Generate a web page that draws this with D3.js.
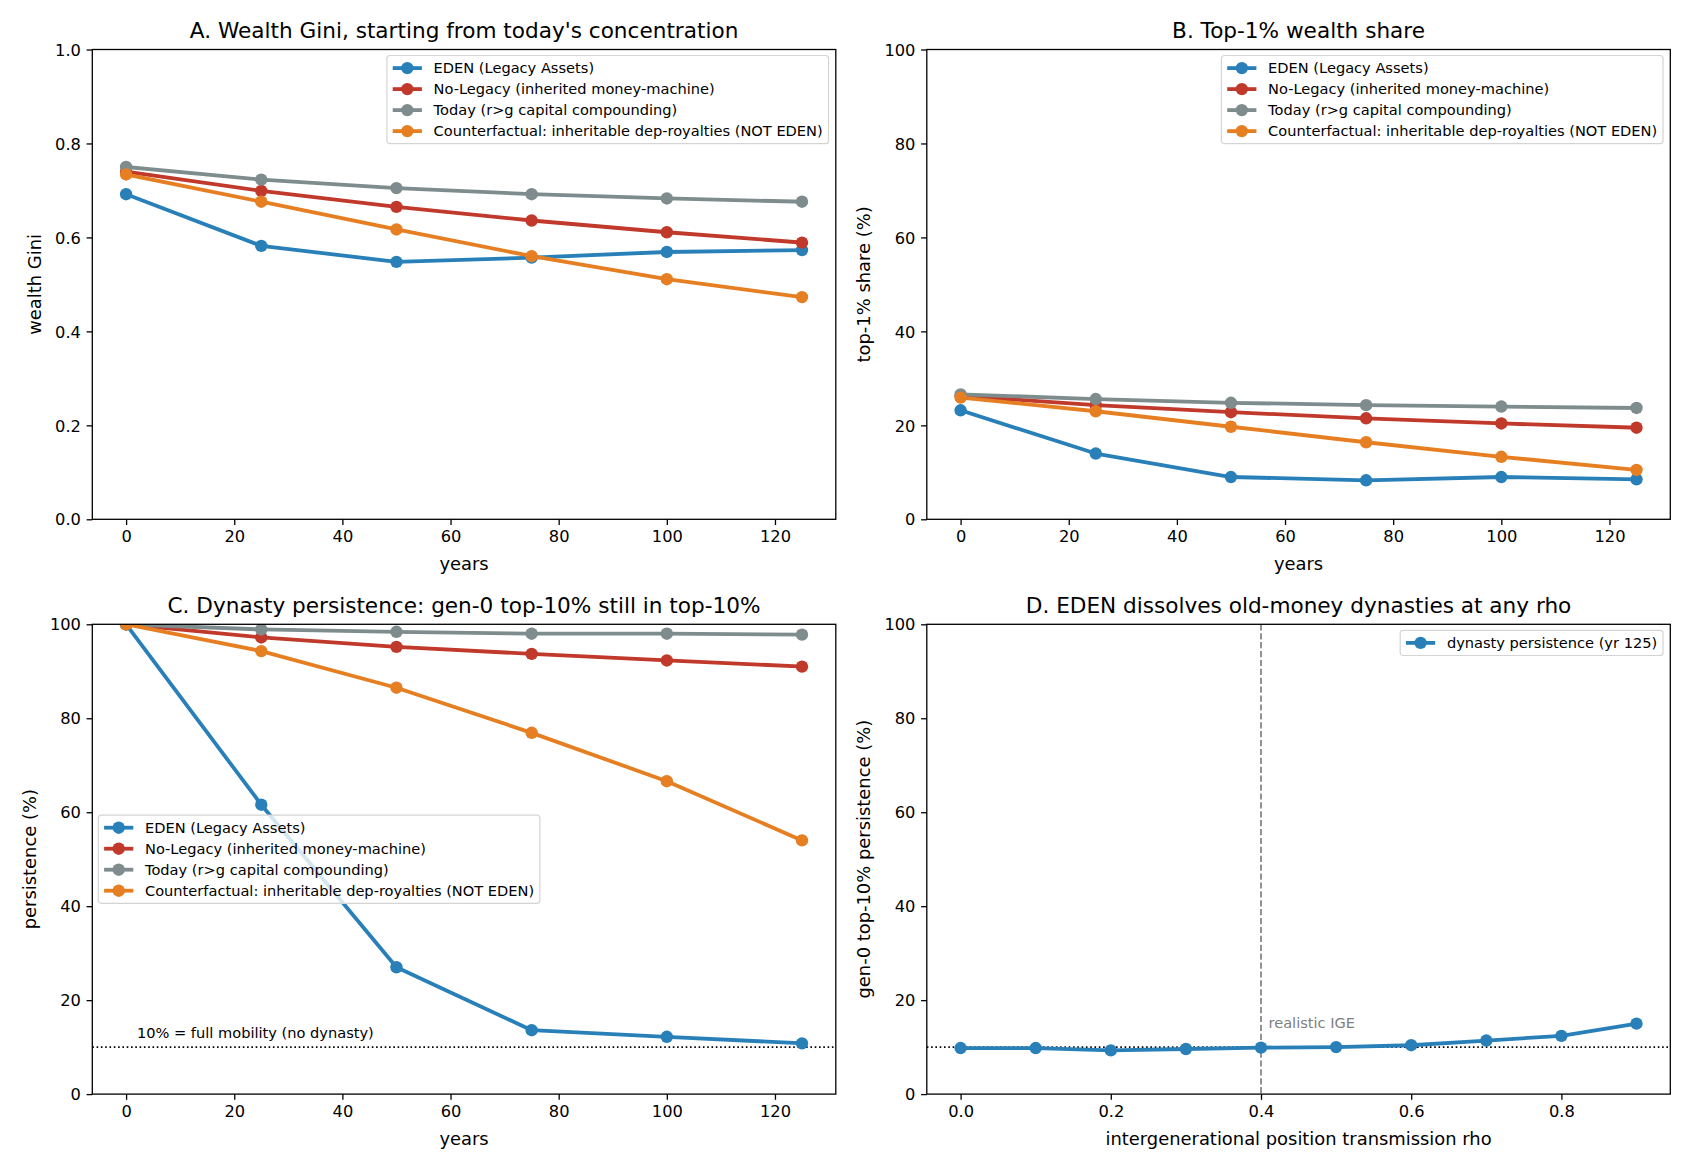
<!DOCTYPE html>
<html>
<head>
<meta charset="utf-8">
<script src="https://cdn.jsdelivr.net/npm/d3@7"></script>
<style>
  body { margin: 0; background: #fff; }
  svg { font-family: "DejaVu Sans", sans-serif; }
</style>
</head>
<body>
<script>
// ---- data ----
const years = [0, 25, 50, 75, 100, 125]
const seriesNames = [
  'EDEN (Legacy Assets)',
  'No-Legacy (inherited money-machine)',
  'Today (r>g capital compounding)',
  'Counterfactual: inheritable dep-royalties (NOT EDEN)'
]

const giniEden = [0.692, 0.582, 0.548, 0.557, 0.569, 0.573]
const giniNoLegacy = [0.740, 0.699, 0.665, 0.636, 0.611, 0.589]
const giniToday = [0.750, 0.723, 0.705, 0.692, 0.683, 0.676]
const giniCounter = [0.734, 0.676, 0.617, 0.560, 0.511, 0.473]

const top1Eden = [23.2, 14.0, 9.0, 8.3, 9.0, 8.5]
const top1NoLegacy = [26.3, 24.3, 22.8, 21.5, 20.4, 19.5]
const top1Today = [26.6, 25.6, 24.8, 24.3, 24.0, 23.7]
const top1Counter = [25.9, 23.0, 19.7, 16.4, 13.3, 10.5]

const persistEden = [100, 61.6, 27.0, 13.6, 12.2, 10.8]
const persistNoLegacy = [100, 97.2, 95.2, 93.7, 92.3, 91.0]
const persistToday = [100, 98.9, 98.4, 98.0, 98.0, 97.8]
const persistCounter = [100, 94.3, 86.5, 76.9, 66.6, 54.0]

const rhoValues = [0.0, 0.1, 0.2, 0.3, 0.4, 0.5, 0.6, 0.7, 0.8, 0.9]
const rhoPersistence = [9.8, 9.8, 9.3, 9.6, 9.9, 10.0, 10.4, 11.4, 12.4, 15.0]

const yearTicks = [0, 20, 40, 60, 80, 100, 120]
const giniTicks = [0.0, 0.2, 0.4, 0.6, 0.8, 1.0]
const pctTicks = [0, 20, 40, 60, 80, 100]
const rhoTicks = [0.0, 0.2, 0.4, 0.6, 0.8]

const mobilityLevel = 10
const realisticRho = 0.4

// ---- styles ----
const colors = ['#2980b9', '#c0392b', '#7f8c8d', '#e67e22']
const lineW = 3.8
const markerR = 6.2
const tickFont = 16.25
const labelFont = 17.9
const titleFont = 21.6
const legendFont = 14.6

const W = 1690
const H = 1170
const svg = d3.select('body').append('svg').attr('width', W).attr('height', H)

const colX = [92.3, 926.8]
const rowY = [49.5, 624.3]
const pw = 743.5
const ph = 469.8

let clipId = 0

function panel (opts) {
  const g = svg.append('g').attr('transform', `translate(${opts.left},${opts.top})`)
  const x = d3.scaleLinear().domain(opts.xDomain).range([0, pw])
  const y = d3.scaleLinear().domain(opts.yDomain).range([ph, 0])

  const cid = 'clip' + (clipId++)
  g.append('clipPath').attr('id', cid).append('rect').attr('width', pw).attr('height', ph)
  const plot = g.append('g').attr('clip-path', `url(#${cid})`)

  // axes
  const xAxis = g.append('g').attr('transform', `translate(0,${ph})`)
    .call(d3.axisBottom(x).tickValues(opts.xTicks).tickFormat(opts.xFormat).tickSizeInner(5.7).tickSizeOuter(0).tickPadding(5.7))
  const yAxis = g.append('g')
    .call(d3.axisLeft(y).tickValues(opts.yTicks).tickFormat(opts.yFormat).tickSizeInner(5.7).tickSizeOuter(0).tickPadding(5.7))
  ;[xAxis, yAxis].forEach(a => {
    a.selectAll('text').attr('font-size', tickFont).attr('font-family', 'DejaVu Sans').attr('fill', '#000')
    a.selectAll('line').attr('stroke', '#000').attr('stroke-width', 1.3)
    a.select('.domain').remove()
  })
  xAxis.selectAll('text').attr('dy', '0.72em')
  yAxis.selectAll('text').attr('dy', '0.35em')

  // reference lines
  if (opts.hline != null) {
    plot.append('line')
      .attr('x1', 0).attr('x2', pw)
      .attr('y1', y(opts.hline)).attr('y2', y(opts.hline))
      .attr('stroke', '#000').attr('stroke-width', 1.6).attr('stroke-dasharray', '1.6,2.7')
  }
  if (opts.vline != null) {
    plot.append('line')
      .attr('x1', x(opts.vline)).attr('x2', x(opts.vline))
      .attr('y1', 0).attr('y2', ph)
      .attr('stroke', '#808080').attr('stroke-width', 1.7).attr('stroke-dasharray', '6.2,2.7')
  }

  // series
  const line = d3.line().x(d => x(d[0])).y(d => y(d[1]))
  opts.series.forEach((s, i) => {
    const pts = s.xs.map((v, j) => [v, s.ys[j]])
    plot.append('path').datum(pts)
      .attr('d', line).attr('fill', 'none')
      .attr('stroke', s.color).attr('stroke-width', lineW)
      .attr('stroke-linejoin', 'round').attr('stroke-linecap', 'square')
    plot.selectAll(null).data(pts).enter().append('circle')
      .attr('cx', d => x(d[0])).attr('cy', d => y(d[1]))
      .attr('r', markerR).attr('fill', s.color)
  })

  // annotations
  ;(opts.notes || []).forEach(n => {
    g.append('text').attr('x', x(n.x)).attr('y', y(n.y))
      .attr('font-size', n.size).attr('fill', n.color).text(n.text)
  })

  // spines
  g.append('rect').attr('width', pw).attr('height', ph)
    .attr('fill', 'none').attr('stroke', '#000').attr('stroke-width', 1.3)

  // title and axis labels
  g.append('text').attr('x', pw / 2).attr('y', -11.3).attr('text-anchor', 'middle')
    .attr('font-size', titleFont).text(opts.title)
  g.append('text').attr('x', pw / 2).attr('y', ph + 51).attr('text-anchor', 'middle')
    .attr('font-size', labelFont).text(opts.xLabel)
  const tw = d3.max(yAxis.selectAll('text').nodes(), n => n.getComputedTextLength())
  const lx = -(11.4 + tw + 20.4)
  g.append('text').attr('transform', `translate(${lx},${ph / 2}) rotate(-90)`)
    .attr('text-anchor', 'middle').attr('dy', '0.35em')
    .attr('font-size', labelFont).text(opts.yLabel)

  // legend
  legend(g, opts.series, opts.legendLoc)
}

function legend (g, series, loc) {
  const pad = 5.8
  const rowH = 13.6
  const gap = 7.4
  const handleLen = 29.2
  const textGap = 11.7
  const lg = g.append('g')
  const box = lg.append('rect')
  const rows = lg.selectAll(null).data(series).enter().append('g')
    .attr('transform', (d, i) => `translate(${pad},${pad + rowH / 2 + i * (rowH + gap)})`)
  rows.append('line').attr('x1', 0).attr('x2', handleLen)
    .attr('stroke', d => d.color).attr('stroke-width', lineW)
  rows.append('circle').attr('cx', handleLen / 2).attr('r', markerR).attr('fill', d => d.color)
  const texts = rows.append('text').attr('x', handleLen + textGap).attr('dy', '0.35em')
    .attr('font-size', legendFont).text(d => d.name)
  const tw = d3.max(texts.nodes(), n => n.getComputedTextLength())
  const bw = pad + handleLen + textGap + tw + pad
  const bh = pad * 2 + series.length * rowH + (series.length - 1) * gap
  box.attr('width', bw).attr('height', bh).attr('rx', 3)
    .attr('fill', 'rgba(255,255,255,0.8)').attr('stroke', '#d4d4d4').attr('stroke-width', 1.2)
  const inset = 7.3
  let lx, ly
  if (loc === 'center left') {
    lx = inset - 1.3
    ly = ph / 2 - bh / 2
  } else {
    lx = pw - inset - bw
    ly = inset - 1.3
  }
  lg.attr('transform', `translate(${lx},${ly})`)
}

function fourSeries (a, b, c, d) {
  return [a, b, c, d].map((ys, i) => ({ name: seriesNames[i], color: colors[i], xs: years, ys: ys }))
}

const yearDomain = [-6.25, 131.25]

panel({
  left: colX[0], top: rowY[0],
  title: "A. Wealth Gini, starting from today's concentration",
  xLabel: 'years', yLabel: 'wealth Gini',
  xDomain: yearDomain, yDomain: [0, 1],
  xTicks: yearTicks, yTicks: giniTicks,
  xFormat: d3.format('d'), yFormat: d3.format('.1f'),
  series: fourSeries(giniEden, giniNoLegacy, giniToday, giniCounter),
  legendLoc: 'upper right'
})

panel({
  left: colX[1], top: rowY[0],
  title: 'B. Top-1% wealth share',
  xLabel: 'years', yLabel: 'top-1% share (%)',
  xDomain: yearDomain, yDomain: [0, 100],
  xTicks: yearTicks, yTicks: pctTicks,
  xFormat: d3.format('d'), yFormat: d3.format('d'),
  series: fourSeries(top1Eden, top1NoLegacy, top1Today, top1Counter),
  legendLoc: 'upper right'
})

panel({
  left: colX[0], top: rowY[1],
  title: 'C. Dynasty persistence: gen-0 top-10% still in top-10%',
  xLabel: 'years', yLabel: 'persistence (%)',
  xDomain: yearDomain, yDomain: [0, 100],
  xTicks: yearTicks, yTicks: pctTicks,
  xFormat: d3.format('d'), yFormat: d3.format('d'),
  series: fourSeries(persistEden, persistNoLegacy, persistToday, persistCounter),
  hline: mobilityLevel,
  notes: [{ x: 2, y: 12, text: '10% = full mobility (no dynasty)', size: legendFont, color: '#000' }],
  legendLoc: 'center left'
})

panel({
  left: colX[1], top: rowY[1],
  title: 'D. EDEN dissolves old-money dynasties at any rho',
  xLabel: 'intergenerational position transmission rho', yLabel: 'gen-0 top-10% persistence (%)',
  xDomain: [-0.045, 0.945], yDomain: [0, 100],
  xTicks: rhoTicks, yTicks: pctTicks,
  xFormat: d3.format('.1f'), yFormat: d3.format('d'),
  series: [{ name: 'dynasty persistence (yr 125)', color: colors[0], xs: rhoValues, ys: rhoPersistence }],
  hline: mobilityLevel,
  vline: realisticRho,
  notes: [{ x: 0.41, y: 14, text: 'realistic IGE', size: legendFont, color: '#808080' }],
  legendLoc: 'upper right'
})
</script>
</body>
</html>
